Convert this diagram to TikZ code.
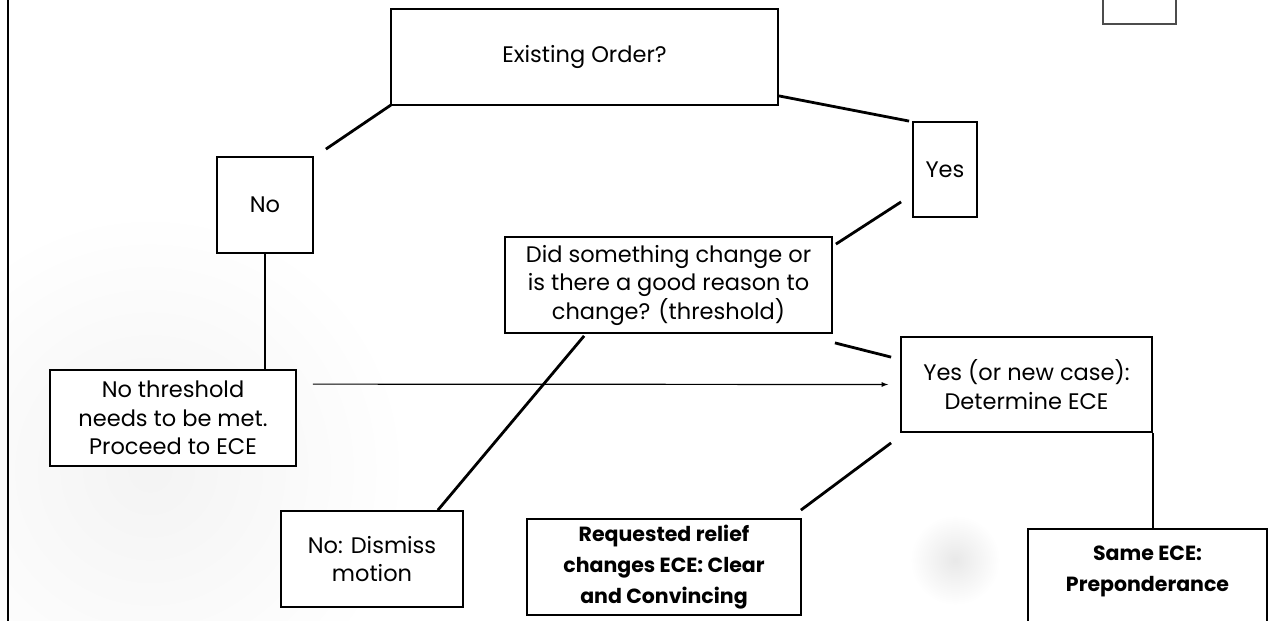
\documentclass[tikz,border=0pt]{standalone}
\usepackage{fontspec}
\setmainfont{Poppins}
\usepackage{xcolor}
\usepackage{tikz}
\usetikzlibrary{arrows,positioning,shapes,calc}
\pgfdeclarelayer{bg}
\pgfsetlayers{bg,main}

\begin{document}
\begin{tikzpicture}[x = 1pt, y = -1pt,
  box/.style = {draw, line width = 1.8pt, fill = white, align = center, inner sep = 0pt,
                font = \fontsize{22.5}{28.5}\selectfont},
  bold/.style = {font = \fontsize{20.5}{31}\selectfont\bfseries},
  link/.style = {line width = 2.8pt}]
\useasboundingbox (0,0) rectangle (1285,621);
\begin{pgfonlayer}{bg}
\shade[inner color = gray!9, outer color = white] (150,470) circle (260);
\shade[inner color = gray!18, outer color = white] (955,560) circle (45);
\end{pgfonlayer}
\draw[line width = 1.8pt] (8,-5) -- (8,630);
\draw[line width = 1.4pt, gray!60!black] (1103,-20) rectangle (1176,24);

\node[box, minimum width = 387, minimum height = 96] (exist) at (584.5,57) {Existing Order?};
\node[box, minimum width = 64, minimum height = 95] (yes) at (945,169.5) {Yes};
\node[box, minimum width = 96, minimum height = 96] (no) at (265,205) {No};
\node[box, minimum width = 327, minimum height = 96] (did) at (668.5,285) {Did something change or\\ is there a good reason to\\ change? (threshold)};
\node[box, minimum width = 246, minimum height = 96] (thr) at (173,418) {No threshold\\ needs to be met.\\ Proceed to ECE};
\node[box, minimum width = 251, minimum height = 95] (new) at (1026.5,384.5) {Yes (or new case):\\ Determine ECE};
\node[box, minimum width = 182, minimum height = 96] (dismiss) at (372,559) {No: Dismiss\\ motion};
\node[box, bold, minimum width = 274, minimum height = 96] (relief) at (664,567) {Requested relief\\ changes ECE: Clear\\ and Convincing};
\node[box, bold, minimum width = 239, minimum height = 100, text depth = 20pt] (same) at (1147.5,579) {Same ECE:\\ Preponderance};

\draw[link] ([shift={(1,-1)}]exist.south west) -- ([shift={(12,-7)}]no.north east);
\draw[link] ([shift={(0,-10)}]exist.south east) -- ([shift={(-3,0)}]yes.north west);
\draw[link] ([shift={(3,8)}]did.north east) -- ([shift={(-11,-16)}]yes.south west);
\draw[link] ([shift={(2,9)}]did.south east) -- ([shift={(-9,21)}]new.north west);
\draw[link] ([shift={(80,2)}]did.south west) -- ([shift={(-26,0)}]dismiss.north east);
\draw[link] (no.south) -- (no.south |- thr.north);
\draw[-latex, line width = 1.2pt] ([shift={(16,15)}]thr.north east) -- ([shift={(-12,0)}]new.west);
\draw[link] ([shift={(-9,10)}]new.south west) -- ([shift={(-1,-8)}]relief.north east);
\draw[link] (new.south east) -- (new.south east |- same.north);
\end{tikzpicture}
\end{document}
